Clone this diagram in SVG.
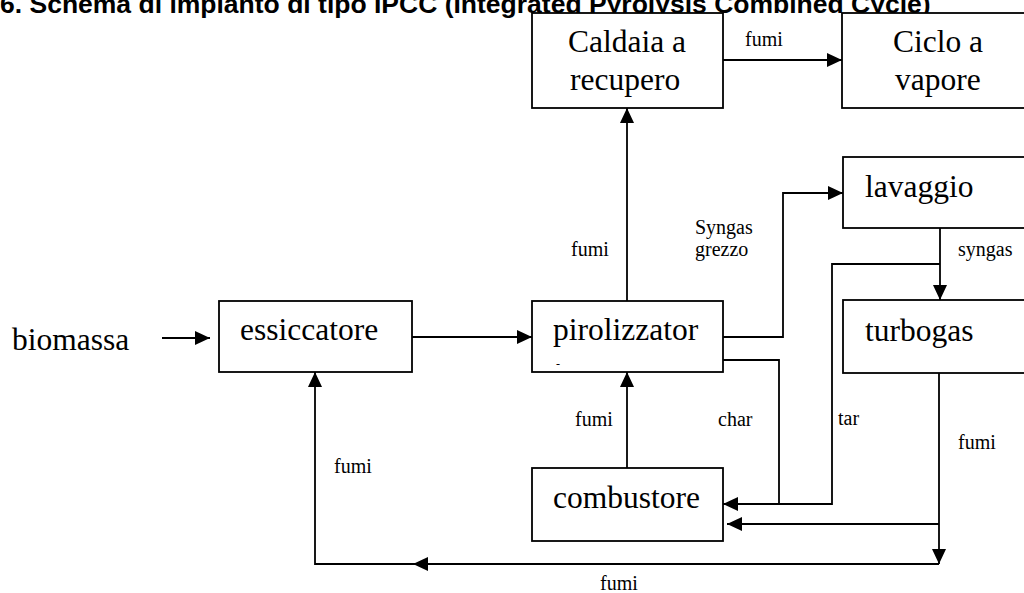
<svg xmlns="http://www.w3.org/2000/svg" width="1024" height="593" viewBox="0 0 1024 593">
<style>
.box{fill:#fff;stroke:#000;stroke-width:1.8}
.ln{fill:none;stroke:#000;stroke-width:1.8}
.nt{font-family:"Liberation Serif","Times New Roman",serif;font-size:31.5px;fill:#000}
.lb{font-family:"Liberation Serif","Times New Roman",serif;font-size:20px;fill:#000}
.tt{font-family:"Liberation Sans",Arial,sans-serif;font-size:26.5px;font-weight:bold;fill:#000}
</style>
<defs>
<marker id="ah" markerUnits="userSpaceOnUse" markerWidth="16" markerHeight="14" refX="15" refY="7" orient="auto">
<path d="M0,0 L15,7 L0,14 z" fill="#000"/>
</marker>
</defs>
<rect width="1024" height="593" fill="#fff"/>
<text class="tt" x="0" y="13">6. Schema di impianto di tipo IPCC (Integrated Pyrolysis Combined Cycle)</text>

<g id="connectors">
<path class="ln" d="M162,338 H210" marker-end="url(#ah)"/>
<path class="ln" d="M412,337 H532" marker-end="url(#ah)"/>
<path class="ln" d="M627,301 V108" marker-end="url(#ah)"/>
<path class="ln" d="M723,60 H842" marker-end="url(#ah)"/>
<path class="ln" d="M723,337 H783 V193 H843" marker-end="url(#ah)"/>
<path class="ln" d="M940,228 V300" marker-end="url(#ah)"/>
<path class="ln" d="M940,264 H832 V504 H779"/>
<path class="ln" d="M723,360 H779 V504 H723" marker-end="url(#ah)"/>
<path class="ln" d="M627,468 V372" marker-end="url(#ah)"/>
<path class="ln" d="M939,373 V564" marker-end="url(#ah)"/>
<path class="ln" d="M939,524 H727" marker-end="url(#ah)"/>
<path class="ln" d="M939,564 H413" marker-end="url(#ah)"/>
<path class="ln" d="M414,564 H315 V372" marker-end="url(#ah)"/>
</g>

<g id="labels">
<text class="lb" x="745" y="46">fumi</text>
<text class="lb" x="571" y="256">fumi</text>
<text class="lb" x="695" y="234">Syngas</text>
<text class="lb" x="695" y="256">grezzo</text>
<text class="lb" x="958" y="256">syngas</text>
<text class="lb" x="575" y="426">fumi</text>
<text class="lb" x="718" y="426">char</text>
<text class="lb" x="838" y="425">tar</text>
<text class="lb" x="958" y="449">fumi</text>
<text class="lb" x="334" y="473">fumi</text>
<text class="lb" x="600" y="590">fumi</text>
<text class="nt" x="12" y="350">biomassa</text>
</g>

<g id="caldaia">
<rect class="box" x="532" y="13" width="191" height="95"/>
<text class="nt" x="568" y="52">Caldaia a</text>
<text class="nt" x="570" y="90">recupero</text>
</g>
<g id="ciclo">
<rect class="box" x="842" y="13" width="200" height="95"/>
<text class="nt" x="893" y="52">Ciclo a</text>
<text class="nt" x="895" y="90">vapore</text>
</g>
<g id="lavaggio">
<rect class="box" x="843" y="157" width="200" height="71"/>
<text class="nt" x="865" y="197">lavaggio</text>
</g>
<g id="turbogas">
<rect class="box" x="843" y="300" width="200" height="73"/>
<text class="nt" x="865" y="341">turbogas</text>
</g>
<g id="essiccatore">
<rect class="box" x="219" y="301" width="193" height="71"/>
<text class="nt" x="240" y="340">essiccatore</text>
</g>
<g id="pirolizzatore">
<rect class="box" x="532" y="301" width="191" height="71"/>
<text class="nt" x="553" y="340">pirolizzator</text>
<text class="lb" x="556" y="368" style="font-size:12px">-</text>
</g>
<g id="combustore">
<rect class="box" x="532" y="468" width="191" height="73"/>
<text class="nt" x="553" y="508">combustore</text>
</g>
</svg>
